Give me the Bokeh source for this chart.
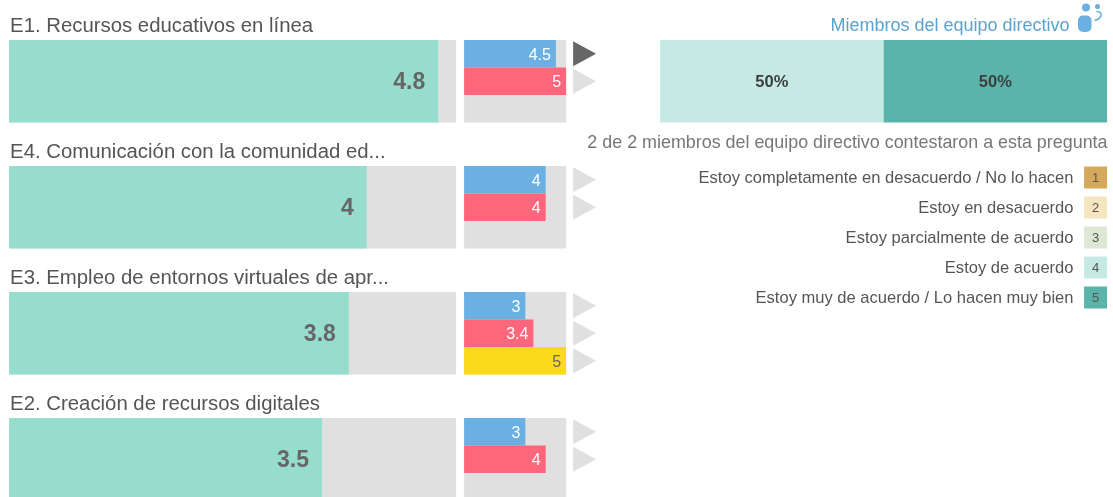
from bokeh.plotting import figure
from bokeh.models import Range1d
from bokeh.core.properties import value
from bokeh.embed import file_html
from bokeh.resources import INLINE

categories = ["E1. Recursos educativos en línea", "E4. Comunicación con la comunidad ed...",
              "E3. Empleo de entornos virtuales de apr...", "E2. Creación de recursos digitales"]
overall = [4.8, 4.0, 3.8, 3.5]
overall_labels = ["4.8", "4", "3.8", "3.5"]
blue_vals = [4.5, 4, 3, 3]
blue_labels = ["4.5", "4", "3", "3"]
red_vals = [5, 4, 3.4, 4]
red_labels = ["5", "4", "3.4", "4"]
yellow_vals = [None, None, 5, None]
yellow_labels = ["", "", "5", ""]
arrow_counts = [2, 2, 3, 2]
share_vals = [50, 50]
share_labels = ["50%", "50%"]
legend_labels = ["Estoy completamente en desacuerdo / No lo hacen", "Estoy en desacuerdo",
                 "Estoy parcialmente de acuerdo", "Estoy de acuerdo",
                 "Estoy muy de acuerdo / Lo hacen muy bien"]
legend_nums = ["1", "2", "3", "4", "5"]
legend_cols = ["#D4A95A", "#F6E6C0", "#DFE8D4", "#C7E9E3", "#5BB3AA"]

W, H = 1113, 497
FONT = value("Liberation Sans")
ROW_TOP = [39.5, 165.5, 291.5, 417.5]
ROW_H, SUB_H = 82.5, 27.5

p = figure(width=W, height=H, output_backend="svg", toolbar_location=None,
           x_range=Range1d(0, W), y_range=Range1d(H, 0), min_border=0,
           x_axis_location=None, y_axis_location=None, outline_line_color=None,
           background_fill_color="white", border_fill_color="white")
p.grid.visible = False
p.styles = {"position": "fixed", "left": "0", "top": "0"}

M0, MU = 8.6, 89.4
S0, SU = 463.6, 20.4
T0, TU = 659.6, 4.47
p.extra_x_ranges = {
    "main": Range1d(-M0 / MU, (W - M0) / MU),
    "small": Range1d(-S0 / SU, (W - S0) / SU),
    "team": Range1d(-T0 / TU, (W - T0) / TU),
}

def txt(x, y, s, size, color, align="left", style="normal"):
    p.text([x], [y], text=[s], text_font=FONT, text_font_size=f"{size}px", text_color=color,
           text_align=align, text_baseline="middle", text_font_style=style)

for i, cat in enumerate(categories):
    top = ROW_TOP[i]
    txt(9.6, top - 15.5, cat, 20.35, "#555555")
    p.quad(left=[0], right=[5], top=[top], bottom=[top + ROW_H], x_range_name="main",
           fill_color="#E0E0E0", line_color=None)
    p.quad(left=[0], right=[overall[i]], top=[top], bottom=[top + ROW_H], x_range_name="main",
           fill_color="#97DDCD", line_color=None)
    p.text([overall[i]], [top + 40.5], text=[overall_labels[i]], x_range_name="main", x_offset=-13,
           text_font=FONT, text_font_size="23px", text_font_style="bold", text_color="#666666",
           text_align="right", text_baseline="middle")
    p.quad(left=[0], right=[5], top=[top], bottom=[top + ROW_H], x_range_name="small",
           fill_color="#E0E0E0", line_color=None)
    series = [(blue_vals, blue_labels, "#6AB0E2", "white"),
              (red_vals, red_labels, "#FE667B", "white"),
              (yellow_vals, yellow_labels, "#FBD91B", "#666666")]
    for j, (vals, labs, col, tc) in enumerate(series):
        if vals[i] is None:
            continue
        y0 = top + j * SUB_H
        p.quad(left=[0], right=[vals[i]], top=[y0], bottom=[y0 + SUB_H], x_range_name="small",
               fill_color=col, line_color=None)
        p.text([vals[i]], [y0 + SUB_H / 2], text=[labs[i]], x_range_name="small", x_offset=-5,
               text_font=FONT, text_font_size="16px", text_color=tc,
               text_align="right", text_baseline="middle")
    for j in range(arrow_counts[i]):
        yc = top + j * SUB_H + SUB_H / 2
        col = "#666666" if (i == 0 and j == 0) else "#E0E0E0"
        p.patch([572.6, 595.6, 572.6], [yc - 12.5, yc, yc + 12.5], fill_color=col, line_color=None)

# stacked share bar
left = 0
share_cols = ["#C7E9E3", "#5BB3AA"]
for k, v in enumerate(share_vals):
    p.quad(left=[left], right=[left + v], top=[39.5], bottom=[122], x_range_name="team",
           fill_color=share_cols[k], line_color=None)
    p.text([left + v / 2], [80.5], text=[share_labels[k]], x_range_name="team",
           text_font=FONT, text_font_size="16.5px", text_font_style="bold", text_color="#3A3F3F",
           text_align="center", text_baseline="middle")
    left += v

txt(1069, 24, "Miembros del equipo directivo", 18, "#5BA3CF", align="right")
txt(1107, 141, "2 de 2 miembros del equipo directivo contestaron a esta pregunta", 17.9, "#777777",
    align="right")

# icon
ICON = "#6AB0E2"
p.quad(left=[1077.5], right=[1091], top=[15], bottom=[31.5], fill_color=ICON, line_color=None, border_radius=5)
p.scatter([1085.5], [7], size=8, fill_color=ICON, line_color=None)
p.scatter([1097], [6], size=5, fill_color=ICON, line_color=None)
p.bezier(x0=[1096], y0=[11], x1=[1094], y1=[20], cx0=[1103], cy0=[11], cx1=[1102], cy1=[18],
         line_color=ICON, line_width=1.5)

# legend
for k, lab in enumerate(legend_labels):
    yc = 177 + 30 * k
    txt(1073, yc - 0.5, lab, 16.55, "#555555", align="right")
    p.quad(left=[1083.6], right=[1106.6], top=[yc - 11], bottom=[yc + 11], fill_color=legend_cols[k], line_color=None)
    txt(1095, yc - 0.5, legend_nums[k], 13, "#555555", align="center")

open("out.html", "w").write(file_html(p, INLINE))
